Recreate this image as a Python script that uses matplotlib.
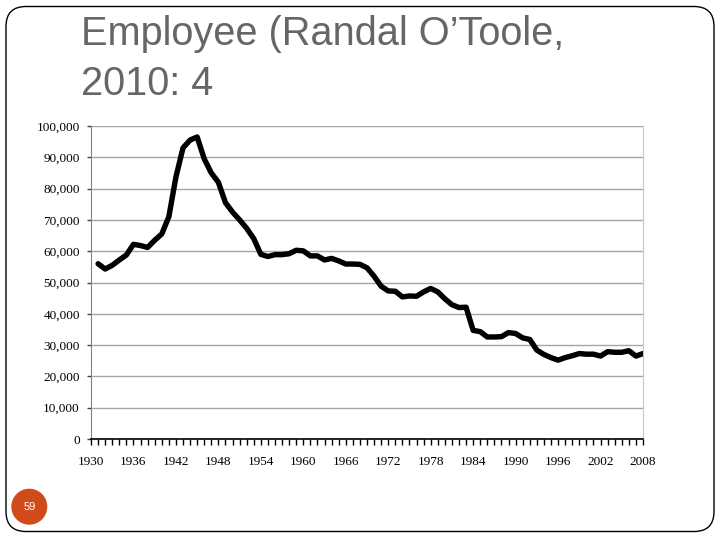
import matplotlib
matplotlib.use("Agg")
import matplotlib.pyplot as plt
from matplotlib.patches import FancyBboxPatch, Circle
from matplotlib.ticker import MultipleLocator, FuncFormatter, FixedLocator

years = list(range(1931, 2009))
values = [
    56000, 54300, 55500, 57200, 58800, 62200, 61800, 61200, 63500, 65500,  # 1931-1940
    71000, 83700, 93000, 95500, 96500, 89500, 85000, 82000, 75500, 72500,  # 1941-1950
    70000, 67300, 64000, 59000, 58300, 58900, 58900, 59200, 60300, 60100,  # 1951-1960
    58500, 58500, 57200, 57700, 56900, 55900, 55900, 55800, 54700, 52000,  # 1961-1970
    48800, 47300, 47200, 45400, 45700, 45600, 47000, 48100, 47000, 44800,  # 1971-1980
    42900, 42000, 42100, 34700, 34300, 32600, 32600, 32700, 34000, 33700,  # 1981-1990
    32300, 31800, 28400, 27000, 26000, 25200, 26000, 26600, 27300, 27100,  # 1991-2000
    27100, 26500, 27900, 27700, 27700, 28200, 26500, 27300,                # 2001-2008
]
x_labels = list(range(1930, 2009, 6))
y_ticks = list(range(0, 100001, 10000))
title_lines = ["Employee (Randal O\u2019Toole,", "2010: 4"]
page_number = "59"

W, H = 720, 540
fig = plt.figure(figsize=(7.2, 5.4), dpi=100)

# slide border
border = FancyBboxPatch((0.06, 0.085), 7.08, 5.25,
                        boxstyle="round,pad=0,rounding_size=0.2",
                        transform=fig.dpi_scale_trans, fill=False,
                        edgecolor="black", linewidth=1.0)
fig.patches.append(border)

# title
for i, line in enumerate(title_lines):
    fig.text(81 / W, 1 - (45 + 50 * i) / H, line, family="Liberation Sans",
             fontsize=28.6, color="#666666", ha="left", va="baseline")

# page number badge
circ = Circle((0.293, 0.333), 0.18, transform=fig.dpi_scale_trans,
              facecolor="#D04A1A", edgecolor="none")
fig.patches.append(circ)
fig.text(0.293 / 7.2, 0.333 / 5.4, page_number, family="Liberation Sans",
         fontsize=8, color="white", ha="center", va="center")

# chart
left, right, top, bottom = 91, 643, 126, 439
ax = fig.add_axes([left / W, 1 - bottom / H, (right - left) / W, (bottom - top) / H])
ax.plot(years, values, color="black", linewidth=3.9, solid_joinstyle="round",
        solid_capstyle="round", zorder=3)
ax.set_xlim(1930, 2008)
ax.set_ylim(0, 100000)

ax.set_yticks(y_ticks)
ax.yaxis.set_major_formatter(FuncFormatter(lambda v, p: f"{int(v):,}"))
ax.yaxis.grid(True, color="#a6a6a6", linewidth=1.0)
ax.set_axisbelow(True)

ax.xaxis.set_major_locator(FixedLocator(x_labels))
ax.xaxis.set_minor_locator(MultipleLocator(1))
ax.tick_params(axis="x", which="both", direction="out", length=4.5, width=1.0,
               color="black", pad=8)
ax.tick_params(axis="y", which="major", direction="out", length=3, width=1.0,
               color="#404040", pad=5)
for lab in ax.get_xticklabels() + ax.get_yticklabels():
    lab.set_family("Liberation Serif")
    lab.set_fontsize(9.5)
    lab.set_color("black")

ax.spines["top"].set_visible(False)
ax.spines["right"].set_color("#c8c8c8")
ax.spines["left"].set_color("#808080")
ax.spines["bottom"].set_color("black")
ax.spines["bottom"].set_linewidth(1.2)

fig.savefig("out.png", dpi=100)
